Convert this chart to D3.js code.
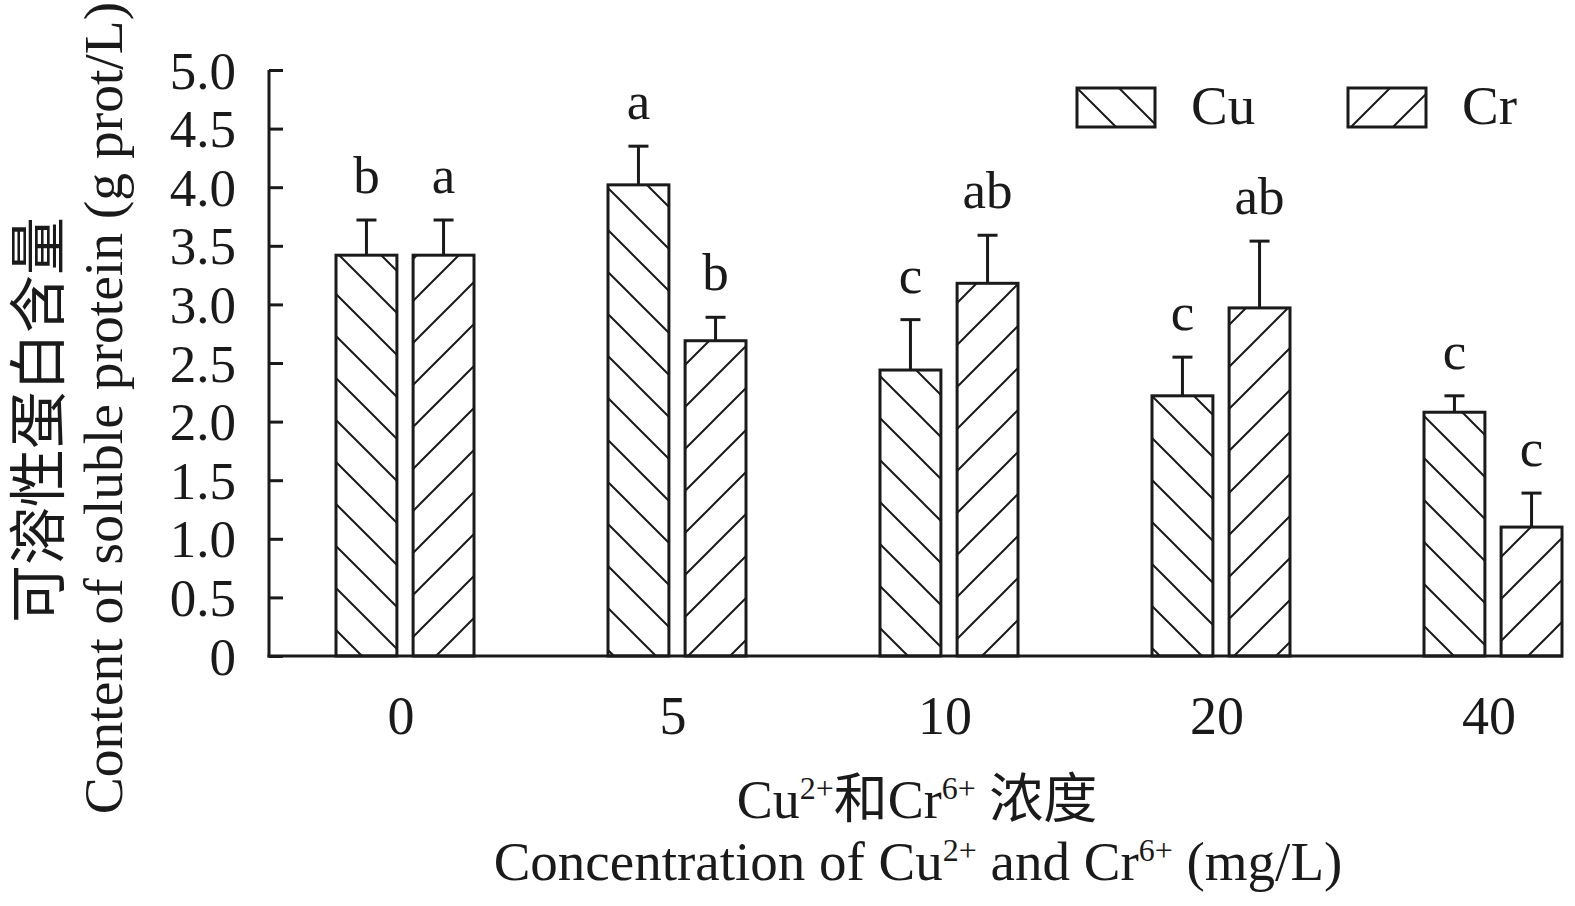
<!DOCTYPE html>
<html>
<head>
<meta charset="utf-8">
<title>Soluble protein</title>
<script src="https://d3js.org/d3.v7.min.js"></script>
<style>
  body { margin: 0; background: #fff; }
  text { font-family: "Liberation Serif", "Noto Sans CJK SC", serif; fill: #1a1a1a; }
</style>
</head>
<body>
<svg id="chart" width="1575" height="906"></svg>
<script>
// ---------------- data ----------------
var concentrations = ["0", "5", "10", "20", "40"];
var seriesNames = ["Cu", "Cr"];
var cuValues = [3.42, 4.02, 2.44, 2.22, 2.08];
var crValues = [3.42, 2.69, 3.18, 2.97, 1.10];
var cuErrors = [0.30, 0.33, 0.43, 0.33, 0.14];
var crErrors = [0.30, 0.20, 0.41, 0.57, 0.29];
var cuLetters = ["b", "a", "c", "c", "c"];
var crLetters = ["a", "b", "ab", "ab", "c"];
var yTicks = [0, 0.5, 1.0, 1.5, 2.0, 2.5, 3.0, 3.5, 4.0, 4.5, 5.0];

// ---------------- layout ----------------
// (don't call these top/left: window.top is read-only)
var ink = "#1a1a1a";
var plotL = 269, plotR = 1563, plotT = 70, plotB = 656;
var step = 272;

var svg = d3.select("#chart");

var x = d3.scaleBand()
    .domain(concentrations)
    .range([plotL, plotL + step * concentrations.length])
    .padding(0);

var xInner = d3.scaleBand()
    .domain(seriesNames)
    .range([-65, 73])
    .paddingInner(0.21);

var y = d3.scaleLinear()
    .domain([0, 5])
    .range([plotB, plotT]);

// build rows from the arrays
var rows = [];
concentrations.forEach(function(c, i) {
    rows.push({conc: c, s: "Cu", v: cuValues[i], e: cuErrors[i], lab: cuLetters[i]});
    rows.push({conc: c, s: "Cr", v: crValues[i], e: crErrors[i], lab: crLetters[i]});
});

function cx(d) { return x(d.conc) + x.bandwidth() / 2 - 4; }
function barX(d) { return cx(d) + xInner(d.s); }

// ---------------- hatch patterns ----------------
var defs = svg.append("defs");
var P = 42;
defs.append("pattern")
    .attr("id", "hatch-Cu")
    .attr("patternUnits", "userSpaceOnUse")
    .attr("width", P).attr("height", P)
    .append("path")
    .attr("d", "M0,0L" + P + "," + P + "M" + (-P/2) + "," + (P/2) + "L" + (P/2) + "," + (P*1.5) +
               "M" + (P/2) + "," + (-P/2) + "L" + (P*1.5) + "," + (P/2))
    .attr("stroke", ink).attr("stroke-width", 2);
defs.append("pattern")
    .attr("id", "hatch-Cr")
    .attr("patternUnits", "userSpaceOnUse")
    .attr("width", P).attr("height", P)
    .append("path")
    .attr("d", "M0," + P + "L" + P + ",0M" + (-P/2) + "," + (P/2) + "L" + (P/2) + "," + (-P/2) +
               "M" + (P/2) + "," + (P*1.5) + "L" + (P*1.5) + "," + (P/2))
    .attr("stroke", ink).attr("stroke-width", 2);

// ---------------- bars ----------------
svg.append("g").selectAll("rect")
    .data(rows)
    .enter().append("rect")
    .attr("x", barX)
    .attr("y", function(d) { return y(d.v); })
    .attr("width", xInner.bandwidth())
    .attr("height", function(d) { return y(0) - y(d.v); })
    .attr("fill", function(d) { return "url(#hatch-" + d.s + ")"; })
    .attr("stroke", ink)
    .attr("stroke-width", 3);

// error bars
var eb = svg.append("g").selectAll("g")
    .data(rows)
    .enter().append("g")
    .attr("stroke", ink)
    .attr("stroke-width", 3);
eb.append("line")
    .attr("x1", function(d) { return barX(d) + xInner.bandwidth() / 2; })
    .attr("x2", function(d) { return barX(d) + xInner.bandwidth() / 2; })
    .attr("y1", function(d) { return y(d.v); })
    .attr("y2", function(d) { return y(d.v + d.e); });
eb.append("line")
    .attr("x1", function(d) { return barX(d) + xInner.bandwidth() / 2 - 10; })
    .attr("x2", function(d) { return barX(d) + xInner.bandwidth() / 2 + 10; })
    .attr("y1", function(d) { return y(d.v + d.e); })
    .attr("y2", function(d) { return y(d.v + d.e); });

// significance letters
svg.append("g").selectAll("text")
    .data(rows)
    .enter().append("text")
    .attr("x", function(d) { return barX(d) + xInner.bandwidth() / 2; })
    .attr("y", function(d) { return y(d.v + d.e) - 27; })
    .attr("text-anchor", "middle")
    .style("font-size", "53px")
    .text(function(d) { return d.lab; });

// ---------------- axes ----------------
var yAxis = d3.axisRight(y)
    .tickValues(yTicks)
    .tickSize(14)
    .tickFormat(function(d) { return d === 0 ? "0" : d3.format(".1f")(d); });
var gy = svg.append("g")
    .attr("transform", "translate(" + plotL + ",0)")
    .call(yAxis);
gy.select(".domain").remove();
gy.selectAll(".tick line").attr("stroke", ink).attr("stroke-width", 3);
gy.selectAll(".tick text")
    .attr("x", -33)
    .attr("text-anchor", "end")
    .attr("dy", "0.34em")
    .style("font-size", "53px");
gy.append("line")
    .attr("x1", 0).attr("x2", 0)
    .attr("y1", plotT).attr("y2", plotB + 1.5)
    .attr("stroke", ink).attr("stroke-width", 3);

var xAxis = d3.axisBottom(x).tickSize(0).tickPadding(40);
var gx = svg.append("g")
    .attr("transform", "translate(0," + plotB + ")")
    .call(xAxis);
gx.select(".domain").remove();
gx.selectAll(".tick text")
    .attr("dx", -4)
    .style("font-size", "54px");
gx.append("line")
    .attr("x1", plotL - 1.5).attr("x2", plotR)
    .attr("y1", 0).attr("y2", 0)
    .attr("stroke", ink).attr("stroke-width", 3);

// ---------------- legend ----------------
var legendX = [1077, 1348];
var leg = svg.append("g").selectAll("g")
    .data(seriesNames)
    .enter().append("g")
    .attr("transform", function(d, i) { return "translate(" + legendX[i] + ",88)"; });
leg.append("rect")
    .attr("width", 78).attr("height", 39)
    .attr("fill", function(d) { return "url(#hatch-" + d + ")"; })
    .attr("stroke", ink).attr("stroke-width", 3);
leg.append("text")
    .attr("x", 114).attr("y", 36)
    .style("font-size", "55px")
    .text(function(d) { return d; });

// ---------------- titles ----------------
function supLine(sel, parts) {
    parts.forEach(function(p) {
        var t = sel.append("tspan").text(p[0]);
        if (p[1]) t.attr("dy", -19).style("font-size", "32px");
        else if (p[2]) t.attr("dy", 19);
    });
}
var xt1 = svg.append("text")
    .attr("x", 917).attr("y", 818)
    .attr("text-anchor", "middle")
    .style("font-size", "54px");
supLine(xt1, [["Cu"], ["2+", true], ["和Cr", false, true], ["6+", true], [" 浓度", false, true]]);

var xt2 = svg.append("text")
    .attr("x", 918).attr("y", 880)
    .attr("text-anchor", "middle")
    .style("font-size", "55px");
supLine(xt2, [["Concentration of Cu"], ["2+", true], [" and Cr", false, true], ["6+", true], [" (mg/L)", false, true]]);

svg.append("text")
    .attr("transform", "translate(59,420) rotate(-90)")
    .attr("text-anchor", "middle")
    .style("font-size", "58px")
    .text("可溶性蛋白含量");
svg.append("text")
    .attr("transform", "translate(122,408) rotate(-90)")
    .attr("text-anchor", "middle")
    .style("font-size", "55.5px")
    .text("Content of soluble protein (g prot/L)");
</script>
</body>
</html>
